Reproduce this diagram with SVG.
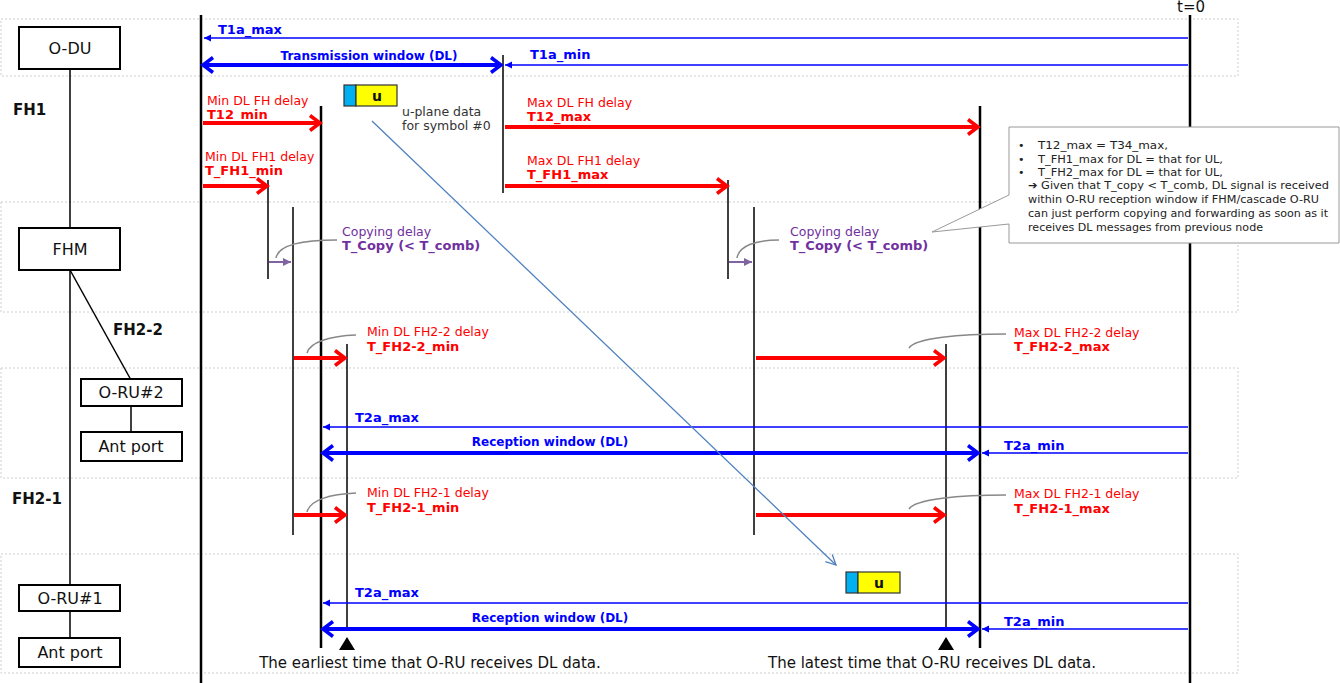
<svg xmlns="http://www.w3.org/2000/svg" width="1340" height="683" viewBox="0 0 1340 683">
<defs>
<style>
text{font-family:"DejaVu Sans","Liberation Sans",sans-serif}
.band{fill:none;stroke:#cfcfcf;stroke-width:1;stroke-dasharray:2 2}
.box{fill:#fff;stroke:#000;stroke-width:2}
.nl{font-size:16px;text-anchor:middle;fill:#111}
.fh{font-size:15px;font-weight:bold;fill:#111}
.tl{stroke:#000;fill:none}
.thk{stroke-width:2.5}
.thn{stroke-width:1.5}
.red{stroke:#f00;stroke-width:4;fill:none;marker-end:url(#chevR)}
.bth{stroke:#00f;stroke-width:4;fill:none;marker-start:url(#chevB);marker-end:url(#chevB)}
.bt{stroke:#00f;stroke-width:1.5;fill:none;marker-end:url(#triB)}
.pa{stroke:#8064a2;stroke-width:2;fill:none;marker-end:url(#triP)}
.rt{fill:#f00;font-size:12.5px}
.rb{fill:#f00;font-size:13px;font-weight:bold}
.bl{fill:#00f;font-size:13px;font-weight:bold}
.bw{fill:#00f;font-size:12px;font-weight:bold;text-anchor:middle}
.pt{fill:#7030a0;font-size:12.5px}
.pb{fill:#7030a0;font-size:13px;font-weight:bold}
.cv{stroke:#888;stroke-width:1.5;fill:none}
.nt{font-size:11px;fill:#222}
.ut{font-size:12.5px;fill:#333}
.bt2{font-size:15px;fill:#111;text-anchor:middle}
.cy{fill:#00b0f0;stroke:#333;stroke-width:1.2}
.ye{fill:#ffff00;stroke:#333;stroke-width:1.2}
.uu{font-size:14px;font-weight:bold;text-anchor:middle;fill:#111}
</style>
<marker id="chevR" markerUnits="userSpaceOnUse" markerWidth="24" markerHeight="24" refX="9" refY="9" orient="auto-start-reverse" overflow="visible">
<path d="M1,1.5 L11,9 L1,16.5" fill="none" stroke="#f00" stroke-width="3.5"/>
</marker>
<marker id="chevB" markerUnits="userSpaceOnUse" markerWidth="24" markerHeight="24" refX="9" refY="9" orient="auto-start-reverse" overflow="visible">
<path d="M1,1.5 L11,9 L1,16.5" fill="none" stroke="#00f" stroke-width="3.5"/>
</marker>
<marker id="triB" markerUnits="userSpaceOnUse" markerWidth="10" markerHeight="10" refX="7" refY="3.5" orient="auto" overflow="visible">
<path d="M0,0 L7,3.5 L0,7 Z" fill="#00f"/>
</marker>
<marker id="triP" markerUnits="userSpaceOnUse" markerWidth="10" markerHeight="10" refX="8" refY="4" orient="auto" overflow="visible">
<path d="M0,0 L8,4 L0,8 Z" fill="#8064a2"/>
</marker>
<marker id="openL" markerUnits="userSpaceOnUse" markerWidth="12" markerHeight="12" refX="10" refY="5" orient="auto" overflow="visible">
<path d="M0,0 L10,5 L0,10" fill="none" stroke="#4f81bd" stroke-width="1.3"/>
</marker>
</defs>
<rect width="1340" height="683" fill="#fff"/>

<g id="bands">
<rect class="band" x="1" y="19" width="1237" height="57"/>
<rect class="band" x="1" y="202" width="1237" height="110"/>
<rect class="band" x="1" y="368" width="1237" height="110"/>
<rect class="band" x="1" y="554" width="1237" height="119"/>
</g>

<g id="timelines">
<line class="tl thk" x1="201" y1="15" x2="201" y2="683"/>
<line class="tl thk" x1="1190" y1="15" x2="1190" y2="683"/>
<line class="tl thk" x1="321" y1="106" x2="321" y2="648"/>
<line class="tl thk" x1="980" y1="106" x2="980" y2="648"/>
<line class="tl thn" x1="503" y1="55" x2="503" y2="193"/>
<line class="tl thn" x1="268" y1="180" x2="268" y2="279"/>
<line class="tl thn" x1="728" y1="180" x2="728" y2="279"/>
<line class="tl thn" x1="293" y1="207" x2="293" y2="535"/>
<line class="tl thn" x1="754" y1="207" x2="754" y2="535"/>
<line class="tl thn" x1="347" y1="344" x2="347" y2="627"/>
<line class="tl thn" x1="946" y1="344" x2="946" y2="627"/>
<text x="1191" y="12" font-size="15" text-anchor="middle" fill="#111">t=0</text>
</g>

<g id="node-links">
<line class="tl thn" x1="70" y1="69" x2="70" y2="638"/>
<line class="tl thn" x1="70" y1="270" x2="131" y2="380"/>
<line class="tl thn" x1="131" y1="406" x2="131" y2="432"/>
</g>

<g id="node-odu"><rect class="box" x="19" y="27" width="101" height="42"/><text class="nl" x="70" y="54">O-DU</text></g>
<g id="node-fhm"><rect class="box" x="19" y="228" width="101" height="42"/><text class="nl" x="70" y="255">FHM</text></g>
<g id="node-oru2"><rect class="box" x="81" y="379" width="101" height="27"/><text class="nl" x="131" y="398">O-RU#2</text></g>
<g id="node-ant2"><rect class="box" x="81" y="432" width="101" height="29"/><text class="nl" x="131" y="452">Ant port</text></g>
<g id="node-oru1"><rect class="box" x="19" y="585" width="101" height="26"/><text class="nl" x="70" y="604">O-RU#1</text></g>
<g id="node-ant1"><rect class="box" x="19" y="638" width="101" height="29"/><text class="nl" x="70" y="658">Ant port</text></g>

<g id="link-labels">
<text class="fh" x="13" y="115">FH1</text>
<text class="fh" x="113" y="335">FH2-2</text>
<text class="fh" x="12" y="504">FH2-1</text>
</g>

<g id="connectors">
<line class="bt" x1="1188" y1="38" x2="204" y2="38"/>
<line class="bth" x1="205" y1="65" x2="499" y2="65"/>
<line class="bt" x1="1188" y1="65" x2="505" y2="65"/>
<line class="bt" x1="1188" y1="427" x2="323" y2="427"/>
<line class="bth" x1="325" y1="453" x2="976" y2="453"/>
<line class="bt" x1="1188" y1="453" x2="982" y2="453"/>
<line class="bt" x1="1188" y1="603" x2="323" y2="603"/>
<line class="bth" x1="325" y1="629" x2="976" y2="629"/>
<line class="bt" x1="1188" y1="629" x2="982" y2="629"/>
<line class="red" x1="203" y1="123" x2="318" y2="123"/>
<line class="red" x1="203" y1="186" x2="265" y2="186"/>
<line class="red" x1="505" y1="127" x2="976" y2="127"/>
<line class="red" x1="505" y1="186" x2="725" y2="186"/>
<line class="red" x1="294" y1="358" x2="343" y2="358"/>
<line class="red" x1="756" y1="358" x2="942" y2="358"/>
<line class="red" x1="294" y1="515" x2="343" y2="515"/>
<line class="red" x1="756" y1="515" x2="942" y2="515"/>
<line class="pa" x1="269" y1="262" x2="291" y2="262"/>
<line class="pa" x1="729" y1="262" x2="752" y2="262"/>
<line x1="372" y1="121" x2="836" y2="565" stroke="#4f81bd" stroke-width="1.3" marker-end="url(#openL)"/>
<path class="cv" d="M276,258 C278,246 300,240 337,240"/>
<path class="cv" d="M737,258 C739,246 755,240 779,240"/>
<path class="cv" d="M307,353 C310,342 330,336 356,335"/>
<path class="cv" d="M909,348 C915,338 960,334 1006,334"/>
<path class="cv" d="M307,512 C310,500 330,494 356,493"/>
<path class="cv" d="M909,509 C915,499 960,495 1006,495"/>
<path d="M339,650 L347,637 L355,650 Z" fill="#000"/>
<path d="M938,650 L946,637 L954,650 Z" fill="#000"/>
</g>

<g id="labels">
<text class="bl" x="218" y="34">T1a_max</text>
<text class="bw" x="369" y="60">Transmission window (DL)</text>
<text class="bl" x="530" y="59">T1a_min</text>
<text class="bl" x="355" y="422">T2a_max</text>
<text class="bw" x="550" y="446">Reception window (DL)</text>
<text class="bl" x="1004" y="450">T2a_min</text>
<text class="bl" x="355" y="597">T2a_max</text>
<text class="bw" x="550" y="622">Reception window (DL)</text>
<text class="bl" x="1004" y="626">T2a_min</text>

<text class="rt" x="207" y="105">Min DL FH delay</text>
<text class="rb" x="207" y="119">T12_min</text>
<text class="rt" x="205" y="161">Min DL FH1 delay</text>
<text class="rb" x="205" y="175">T_FH1_min</text>
<text class="rt" x="527" y="107">Max DL FH delay</text>
<text class="rb" x="527" y="121">T12_max</text>
<text class="rt" x="527" y="165">Max DL FH1 delay</text>
<text class="rb" x="527" y="179">T_FH1_max</text>
<text class="rt" x="367" y="336">Min DL FH2-2 delay</text>
<text class="rb" x="367" y="351">T_FH2-2_min</text>
<text class="rt" x="1014" y="337">Max DL FH2-2 delay</text>
<text class="rb" x="1014" y="351">T_FH2-2_max</text>
<text class="rt" x="367" y="497">Min DL FH2-1 delay</text>
<text class="rb" x="367" y="512">T_FH2-1_min</text>
<text class="rt" x="1014" y="498">Max DL FH2-1 delay</text>
<text class="rb" x="1014" y="513">T_FH2-1_max</text>

<text class="pt" x="342" y="236">Copying delay</text>
<text class="pb" x="342" y="250">T_Copy (&lt; T_comb)</text>
<text class="pt" x="790" y="236">Copying delay</text>
<text class="pb" x="790" y="250">T_Copy (&lt; T_comb)</text>

<text class="ut" x="402" y="116">u-plane data</text>
<text class="ut" x="402" y="130">for symbol #0</text>

<text class="bt2" x="430" y="668">The earliest time that O-RU receives DL data.</text>
<text class="bt2" x="932" y="668">The latest time that O-RU receives DL data.</text>
</g>

<g id="uplane-1">
<rect class="cy" x="344" y="85" width="12" height="21"/>
<rect class="ye" x="356" y="85" width="41" height="21"/>
<text class="uu" x="377" y="101">u</text>
</g>
<g id="uplane-2">
<rect class="cy" x="846" y="572" width="12" height="21"/>
<rect class="ye" x="858" y="572" width="42" height="21"/>
<text class="uu" x="879" y="588">u</text>
</g>

<g id="note">
<path d="M1009,127 H1339 V243 H1009 V224 L932,232 L1009,195 Z" fill="#fff" stroke="#999" stroke-width="1"/>
<text class="nt" x="1018" y="149">•</text>
<text class="nt" x="1018" y="163">•</text>
<text class="nt" x="1018" y="176">•</text>
<text class="nt" x="1038" y="149" textLength="130" lengthAdjust="spacingAndGlyphs">T12_max = T34_max,</text>
<text class="nt" x="1038" y="163" textLength="185" lengthAdjust="spacingAndGlyphs">T_FH1_max for DL = that for UL,</text>
<text class="nt" x="1038" y="176" textLength="185" lengthAdjust="spacingAndGlyphs">T_FH2_max for DL = that for UL,</text>
<text class="nt" x="1028" y="189" textLength="301" lengthAdjust="spacingAndGlyphs">➔ Given that T_copy &lt; T_comb, DL signal is received</text>
<text class="nt" x="1028" y="203" textLength="291" lengthAdjust="spacingAndGlyphs">within O-RU reception window if FHM/cascade O-RU</text>
<text class="nt" x="1028" y="217" textLength="300" lengthAdjust="spacingAndGlyphs">can just perform copying and forwarding as soon as it</text>
<text class="nt" x="1028" y="231" textLength="235" lengthAdjust="spacingAndGlyphs">receives DL messages from previous node</text>
</g>
</svg>
